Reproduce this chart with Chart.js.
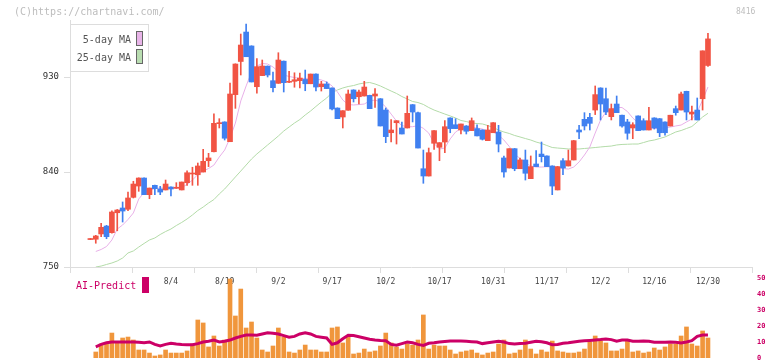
<!DOCTYPE html>
<html>
<head>
<meta charset="utf-8">
<script src="https://cdn.jsdelivr.net/npm/chart.js@4.4.0/dist/chart.umd.min.js"></script>
<style>
  body { margin: 0; width: 772px; height: 361px; overflow: hidden; position: relative; background: #fff;
         font-family: "DejaVu Sans Mono", monospace; }
  canvas { position: absolute; left: 0; top: 0; }
  .txt { position: absolute; white-space: nowrap; }
  #copy { left: 14px; top: 5px; font-size: 10px; line-height: 14px; color: #bdbdbd; }
  #code { left: 736px; top: 5px; font-size: 8px; line-height: 14px; color: #bdbdbd; }
  #legendBox { position: absolute; left: 70px; top: 24px; width: 77px; height: 46px; border: 1px solid #ddd; background: #fff; }
  .lgText { font-size: 10px; line-height: 13px; color: #555; text-align: right; width: 131px; left: 0; }
  .lgSwatch { position: absolute; left: 136px; width: 5px; height: 13px; border: 1px solid #666; }
  #aiText { left: 76px; top: 279px; font-size: 10px; line-height: 14px; color: #cc0066; }
  #aiSwatch { position: absolute; left: 142px; top: 277px; width: 7px; height: 16px; background: #cc0066; }
</style>
</head>
<body>
<canvas id="mainChart" width="772" height="361"></canvas>
<canvas id="volChart" width="772" height="372"></canvas>
<div id="copy" class="txt">(C)https://chartnavi.com/</div>
<div id="code" class="txt">8416</div>
<div id="legendBox"></div>
<div class="txt lgText" style="top:33px">5-day MA</div>
<div class="lgSwatch" style="top:31px; background:#e8b4e8"></div>
<div class="txt lgText" style="top:51px">25-day MA</div>
<div class="lgSwatch" style="top:49px; background:#b9ddb1"></div>
<div id="aiText" class="txt">AI-Predict</div>
<div id="aiSwatch"></div>
<script>
// indice del primo giorno (0 = 8/4)
const firstIndex = -15;

// etichette dell'asse delle date
const labelIdx = [0, 10, 20, 30, 40, 50, 60, 70, 80, 90, 100];
const labelText = ["8/4", "8/19", "9/2", "9/17", "10/2", "10/17", "10/31", "11/17", "12/2", "12/16", "12/30"];

// tick dell'asse dei prezzi
const priceTicks = [750, 840, 930];

const open = [
  776, 776.3, 781.3, 788.8, 782.5, 801.4, 805.9, 804.7, 816, 826.7, 834.3, 818.5, 827.4, 823.9, 823,
  825.8, 824.6, 823, 829.9, 838.1, 837.4, 840, 850.7, 859.2, 885.8,
  887.4, 868.7, 913.3, 944.7, 972.6, 959.4, 920.8, 931.3, 940.3, 926.5,
  924, 945, 925, 925.9, 926.5, 927.7, 923.6, 932.8, 920.8, 923.4,
  919.6, 900.6, 892.1, 898.5, 917.7, 911.3, 912, 912.6, 912, 909.4,
  898.7, 877.2, 886.7, 881.7, 881.7, 903.8, 896.2, 843.1, 836.2, 867.2,
  863.4, 868.4, 891.2, 884.8, 879.8, 883.6, 879.2, 881.1, 879.8, 869.7,
  877.2, 877.9, 853.3, 843.8, 862.1, 843.1, 851.4, 833.7, 847.6, 857,
  855.2, 845.7, 823, 850.7, 845.7, 851.4, 879.8, 889.9, 891.8, 898.7,
  919.6, 909.4, 892.4, 904.4, 893.8, 887.4, 881.7, 893.1, 888.6, 879.8,
  891.2, 890.5, 887.4, 883.6, 900, 898.7, 916.4, 894.9, 898.7, 909.4,
  940.9
];
const high = [
  777, 780, 791.4, 789.5, 803.3, 804.5, 811.6, 821, 831.2, 834.5, 834.5, 824.8, 827.5, 826.4, 832.4,
  826, 829.9, 830.5, 841.2, 844.5, 848.5, 861.5, 857.7, 895, 890.5,
  887.6, 924.3, 942.5, 970.7, 980.2, 959.6, 947.5, 946.1, 940.5, 934.7,
  953, 945.2, 935.4, 934, 933.8, 936.6, 932.8, 933, 925.9, 925.3,
  919.8, 900.8, 898.1, 917.7, 917.9, 917.7, 925.9, 912.8, 919, 909.6,
  900.6, 889.7, 888.6, 887.4, 912, 904, 896.8, 860.8, 862.7, 879.2,
  867.8, 888.6, 891.4, 890.5, 885.5, 884, 891.2, 884.8, 880, 884.2,
  886.9, 884.2, 855.2, 862.1, 862.3, 853.3, 860.8, 855.2, 860.2, 868.4,
  855.4, 845.9, 845.3, 852.6, 860.8, 869.9, 884.2, 896.2, 895.6, 921.5,
  919.8, 919.6, 904.4, 912, 894, 889.9, 886.7, 893.3, 890.5, 901.3,
  891.4, 890.7, 887.6, 893.8, 902.5, 915.8, 916.6, 902.5, 910.1, 954.8,
  971.3
];
const low = [
  776, 772.5, 778.7, 776.8, 782, 784.3, 792.6, 803.3, 815.4, 821.7, 818.5, 814.7, 818.5, 818.5, 823,
  817.3, 824.5, 823, 827.4, 827.4, 827.4, 840, 845.1, 859, 881.7,
  870.3, 868.7, 900.3, 931.9, 949.2, 925.3, 914.6, 931.3, 930, 915.8,
  924, 915.8, 924.6, 920.3, 919.6, 917, 923.6, 916.7, 916.7, 919,
  898.7, 890.5, 881.7, 898.5, 906.3, 904.4, 912, 900, 901.1, 883.6,
  867.8, 868.4, 866.5, 876, 881.7, 887.4, 862.7, 829.3, 836.2, 861.5,
  850.7, 858.3, 877.2, 881.1, 876, 876, 879.2, 874.2, 870.3, 869.7,
  877.2, 859, 835, 843.8, 841.2, 843.1, 832.4, 833.7, 845.1, 849.5,
  845.1, 818.5, 823, 837.4, 845.7, 851.4, 871.6, 879.8, 879.8, 894.4,
  889.3, 894.4, 889.3, 896.2, 882.4, 871, 871.6, 879.2, 879.8, 879.8,
  880.7, 873.5, 874.8, 883.6, 893.8, 898.7, 889.3, 889.3, 889.3, 898.7,
  940
];
const close = [
  776.5, 779.4, 787.6, 778.7, 802.1, 804, 803, 815.4, 828.6, 834.3, 818.5, 824.8, 824.2, 821, 828.6,
  823.9, 825.2, 830.5, 839.3, 838.8, 845.7, 850.1, 853.3, 886.1, 886.4,
  872, 913.9, 942.3, 960.3, 949.2, 925.3, 939.8, 940.4, 931.9, 919.9,
  946.1, 924.6, 925.6, 927.4, 929, 923.6, 932.8, 920.5, 923.4, 919,
  899.7, 890.5, 898.1, 913.9, 909.4, 915.8, 920.5, 900, 913.9, 883.6,
  873.5, 879.8, 888.6, 876, 895.6, 896.8, 862.7, 836.2, 858.3, 879.2,
  867.8, 882.9, 881.1, 881.1, 885.5, 878.6, 888.6, 874.2, 871, 879.8,
  886.7, 866.5, 840, 862.1, 843.1, 851.4, 838.8, 845.1, 845.1, 854.5,
  845.1, 826.7, 845.1, 843.8, 850.7, 869.7, 877.9, 883.6, 886.1, 913.3,
  904.4, 896.8, 900, 896.2, 883.6, 876.7, 884.8, 879.2, 879.8, 888.6,
  881.7, 877.2, 877.2, 893.8, 896.2, 913.9, 896.8, 896.8, 889.3, 954.8,
  966.1
];

// medie mobili
const ma5 = [
  null, 764.7, 766.6, 769.4, 775.6, 786, 789.8, 795, 801.2, 814.4, 820.6, 822.5, 824.4, 824.8, 824.8,
  824.8, 824.4, 825.3, 828.2, 832.4, 837.6, 840.9, 843.3, 846.6, 854.2,
  860.8, 872.2, 886.4, 907.3, 921.5, 934.7, 940.4, 942.8, 942.3, 939.5,
  935.2, 931.9, 930.5, 929.5, 928.6, 928.6, 928.8, 928.1, 927.2, 925.3,
  921.5, 915.8, 908.2, 903.9, 903.5, 903.9, 904.4, 907.3, 908.2, 906.3,
  901.6, 894.9, 888.3, 884, 882.9, 882.9, 884, 881.4, 876.9, 867,
  861.8, 862.7, 871.3, 877.9, 881.2, 881.7, 882.2, 881.7, 880.7, 878.8,
  877.9, 875, 870.3, 864.2, 857.1, 852.8, 848.5, 845.7, 844.7, 844.7,
  845, 844.7, 844.3, 843.3, 842.8, 844.7, 849.5, 856.1, 863.7, 876.9,
  889.3, 896.8, 899.7, 901.1, 901.1, 897.3, 891.2, 886.4, 883.6, 882.2,
  881.2, 881.2, 881.7, 882.6, 883.6, 884.5, 887.4, 890.2, 896.8, 908.2,
  920.5
];
const ma25 = [
  null, 750, 750.9, 752.4, 753.8, 755.7, 758.5, 763.3, 765.2, 768.9, 772.3, 775.6, 777.5, 780.8, 783.6,
  786, 789.3, 792.2, 795.5, 799.3, 803.5, 806.8, 810.6, 813.9, 819.2,
  823.9, 829.6, 835.3, 840.9, 846.6, 852.3, 857.1, 861.3, 865.6, 869.8,
  874.1, 878.8, 882.6, 886.4, 889.7, 894, 897.8, 902.1, 906.3, 910.1,
  915.3, 917.7, 919.6, 921, 921.9, 923.4, 924.3, 924.8, 923.4, 921.5,
  919.1, 916.7, 914.4, 911.5, 909.2, 906.8, 905.8, 904, 901.1, 898.7,
  896.8, 894.9, 893.1, 891.2, 888.8, 887.8, 886.4, 885.9, 885.5, 884,
  882.2, 879.8, 877.9, 876.5, 874.6, 873.2, 871.7, 870.3, 868.4, 867,
  865.1, 863.2, 862.7, 862.3, 861.8, 861.8, 861.8, 862.3, 862.7, 863.2,
  863.7, 864.2, 864.6, 865.6, 866.1, 866.3, 866.5, 866.5, 867.9, 869.4,
  870.3, 871.7, 873.2, 875.5, 877.9, 879.3, 881.2, 883.1, 887.4, 892.1,
  895.6
];

// volumi (pannello inferiore)
const volume = [
  null, 3.75, 8.75, 8.75, 15.6, 9.6, 12.5, 13.1, 11.25, 5, 5, 3.1, 1.25, 1.9, 5,
  3.1, 3.1, 3.1, 4.4, 8.75, 23.75, 21.9, 6.9, 13.75, 7.5,
  11.25, 49.4, 26.25, 43.1, 18.75, 22.5, 12.5, 5, 3.75, 7.5,
  18.75, 13.1, 3.75, 3.1, 5, 8.1, 5, 5, 3.75, 3.75,
  18.75, 19.4, 9.4, 13.1, 2.5, 3.1, 5.6, 3.75, 4.4, 7.5,
  15.6, 9.4, 6.9, 5.6, 8.75, 8, 11.25, 26.9, 5.6, 8.1,
  7.5, 7.5, 5, 2.5, 3.75, 4.4, 5, 3.1, 1.9, 3.1,
  3.75, 8.75, 11.25, 2.5, 3.1, 5, 11.25, 5.6, 2.5, 5,
  3.75, 10.6, 4.4, 3.75, 3.1, 3.1, 3.75, 5.6, 10, 13.75,
  10.6, 9.4, 4.4, 4.4, 5.6, 10.6, 3.75, 4.4, 3.1, 3.75,
  6.25, 5, 6.9, 8.75, 8.75, 13.75, 19.4, 8.75, 7.5, 16.9,
  12.5
];

// linea AI-Predict
const aiPredict = [
  null, 7, 8.5, 9.5, 10, 10, 10, 10, 10, 9.8, 9.6, 10, 8.5, 7.5, 8.5,
  9.2, 8.8, 8.5, 8.3, 8.3, 9, 10, 10.5, 11.2, 10,
  10.5, 11.2, 12.5, 13.5, 14.4, 14.4, 14.2, 15, 15.8, 15.5,
  15, 14, 13, 13.5, 15, 15.8, 15, 13.5, 13, 12.5,
  8.5, 9.5, 12, 14.2, 14, 13.3, 12.5, 11.7, 11.3, 11,
  10.8, 8.5, 8, 9, 10, 9.5, 8.5, 7.9, 9.2, 9.5,
  10, 10.3, 10.6, 10.6, 10.6, 10.4, 10.2, 10, 9, 9.5,
  10, 10.4, 10, 9, 8.75, 9, 9.2, 9.8, 10.4, 10.2,
  9.5, 8.3, 8.5, 9.2, 9.5, 10, 10.5, 10.8, 11, 11.25,
  11.5, 11.9, 11.5, 10.5, 11.25, 11.2, 10.5, 10.5, 10.6, 10.4,
  9.8, 9.8, 9.8, 10, 9.8, 9.4, 10, 10.8, 13.5, 14.4,
  14.4
];

// colori
const RED = "#f15444";
const BLUE = "#4080f0";
const GRID = "#dddddd";

// estremi dell'asse x (indici dei giorni)
const X_MIN = -18.8;
const X_MAX = 108.2;

Chart.defaults.font.family = "'DejaVu Sans Mono', monospace";
Chart.defaults.animation = false;

const idx = open.map((_, k) => firstIndex + k);
const candleColors = idx.map((_, k) => (close[k] >= open[k] ? RED : BLUE));

// grafico principale: candele + medie mobili
new Chart(document.getElementById("mainChart"), {
  type: "bar",
  data: {
    datasets: [
      {
        type: "line",
        xAxisID: "x",
        data: idx.map((x, k) => ({ x: x, y: ma5[k] })),
        borderColor: "#e8b0e8",
        borderWidth: 1,
        pointRadius: 0,
        order: 4,
      },
      {
        type: "line",
        xAxisID: "x",
        data: idx.map((x, k) => ({ x: x, y: ma25[k] })),
        borderColor: "#b3dba8",
        borderWidth: 1,
        pointRadius: 0,
        order: 4,
      },
      {
        // stoppini
        xAxisID: "x",
        data: idx.map((x, k) => ({ x: x, y: [low[k], high[k]] })),
        backgroundColor: candleColors,
        barThickness: 1,
        grouped: false,
        order: 2,
      },
      {
        // corpi
        xAxisID: "x",
        data: idx.map((x, k) => ({ x: x, y: [open[k], close[k]] })),
        backgroundColor: candleColors,
        barThickness: 5,
        minBarLength: 1,
        grouped: false,
        order: 1,
      },
    ],
  },
  options: {
    responsive: false,
    devicePixelRatio: 1,
    layout: { padding: { top: 20, right: 20, left: 0, bottom: 72 } },
    plugins: { legend: { display: false }, tooltip: { enabled: false } },
    scales: {
      x: {
        type: "linear",
        position: "bottom",
        weight: 2,
        offset: false,
        min: X_MIN,
        max: X_MAX,
        afterBuildTicks: (scale) => { scale.ticks = labelIdx.map((v) => ({ value: v })); },
        ticks: {
          autoSkip: false,
          maxRotation: 0,
          padding: 4,
          color: "#444",
          font: { size: 8 },
          callback: (value) => labelText[labelIdx.indexOf(value)],
        },
        grid: { display: false, drawTicks: false },
        border: { display: false },
        afterFit: (scale) => { scale.height = 16; },
      },
      xt: {
        type: "linear",
        position: "bottom",
        weight: 1,
        offset: false,
        min: 0,
        max: 11,
        ticks: { display: false, stepSize: 1 },
        grid: { drawOnChartArea: false, tickLength: 6, color: GRID, offset: false },
        border: { display: true, color: GRID },
        afterFit: (scale) => { scale.height = 6; },
      },
      y: {
        type: "linear",
        position: "left",
        min: 750,
        max: 984,
        afterBuildTicks: (scale) => { scale.ticks = priceTicks.map((v) => ({ value: v })); },
        ticks: { color: "#333", font: { size: 9 }, padding: 5 },
        grid: { drawOnChartArea: false, tickLength: 6, color: GRID },
        border: { display: true, color: GRID },
        afterFit: (scale) => { scale.width = 70; },
      },
    },
  },
});

// pannello inferiore: volumi + AI-Predict
new Chart(document.getElementById("volChart"), {
  type: "bar",
  data: {
    datasets: [
      {
        type: "line",
        data: idx.map((x, k) => ({ x: x, y: aiPredict[k] })),
        borderColor: "#cc0066",
        borderWidth: 3,
        pointRadius: 0,
        order: 1,
      },
      {
        data: idx.map((x, k) => ({ x: x, y: volume[k] })),
        backgroundColor: "#f0963c",
        barThickness: 4,
        order: 2,
      },
    ],
  },
  options: {
    responsive: false,
    devicePixelRatio: 1,
    layout: { padding: { top: 278, right: 0, left: 70, bottom: 14 } },
    plugins: { legend: { display: false }, tooltip: { enabled: false } },
    scales: {
      x: { type: "linear", min: X_MIN, max: X_MAX, offset: false, display: false },
      y: {
        type: "linear",
        position: "right",
        min: 0,
        max: 50,
        ticks: { stepSize: 10, color: "#cc0066", font: { size: 7, weight: "bold" }, padding: 5 },
        grid: { display: false, drawTicks: false },
        border: { display: false },
        afterFit: (scale) => { scale.width = 20; },
      },
    },
  },
});
</script>
</body>
</html>
